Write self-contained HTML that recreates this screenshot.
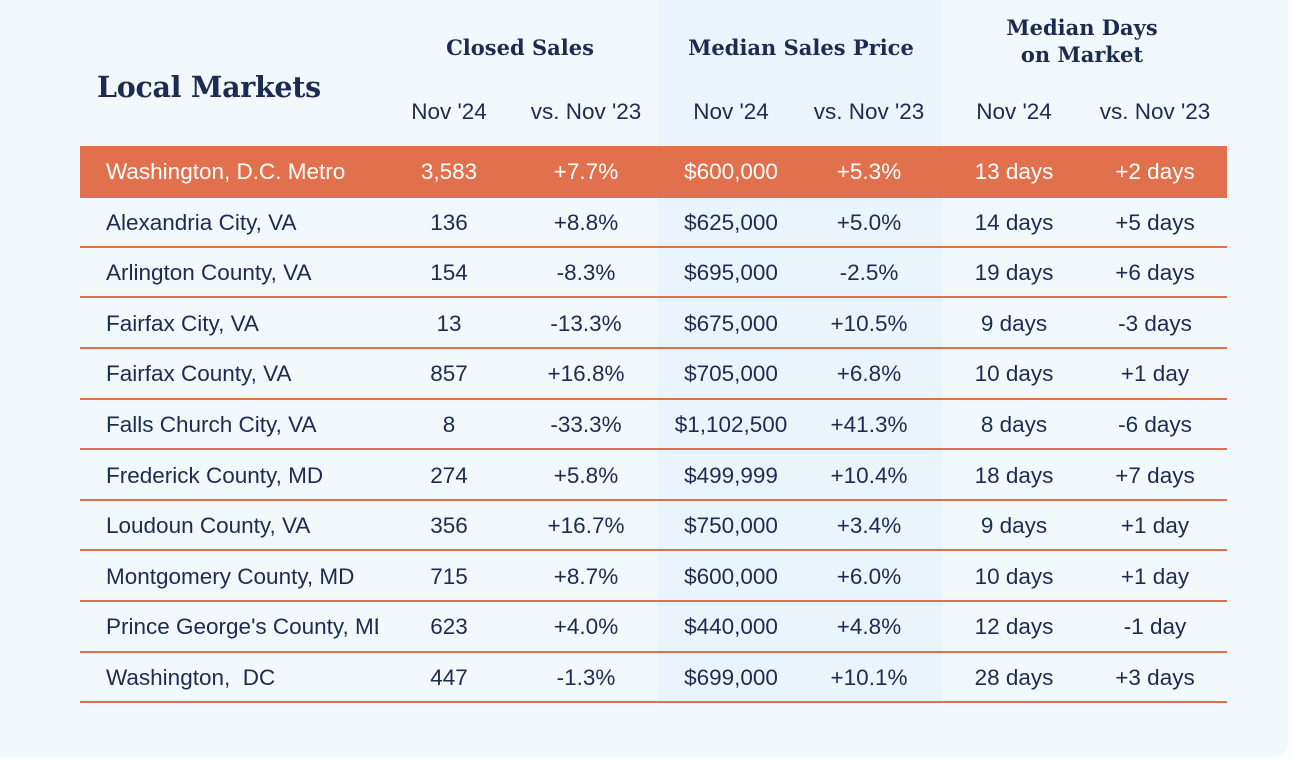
<!DOCTYPE html>
<html><head><meta charset="utf-8"><style>
html,body{margin:0;padding:0;width:1292px;height:760px;overflow:hidden;background:#fbfdff;}
#card{position:absolute;left:0;top:0;width:1288px;height:757px;background:#f2f9fd;border-radius:0 0 14px 0;overflow:hidden;}
#band{position:absolute;left:658px;top:0;width:284px;height:703px;background:#eaf4fc;}
.serif{font-family:"DejaVu Serif","Liberation Serif",serif;font-weight:bold;color:#1c2b50;position:absolute;}
.t{position:absolute;font-family:"Liberation Sans",sans-serif;color:#1c2b50;font-size:22.5px;white-space:pre;transform:translateX(-50%);}
.n{position:absolute;font-family:"Liberation Sans",sans-serif;color:#1c2b50;font-size:22.5px;white-space:pre;left:106px;width:272px;overflow:hidden;}
.line{position:absolute;height:2px;background:#e2704c;}
</style></head><body>
<div id="card">
<div id="band"></div>
<div class="serif" style="left:97px;top:70px;font-size:28.5px;letter-spacing:-0.3px;">Local Markets</div>
<div class="serif" style="left:520px;top:35px;font-size:21px;transform:translateX(-50%);white-space:nowrap;">Closed Sales</div>
<div class="serif" style="left:801px;top:35px;font-size:21px;transform:translateX(-50%);white-space:nowrap;">Median Sales Price</div>
<div class="serif" style="left:1082px;top:14px;font-size:21px;transform:translateX(-50%);white-space:nowrap;text-align:center;line-height:27px;">Median Days<br>on Market</div>
<div id="orange" style="position:absolute;left:80px;top:146px;width:1147px;height:52px;background:#e1714d;"></div>
<div id="rows"></div>
</div>
<script>
const names=["Washington, D.C. Metro","Alexandria City, VA","Arlington County, VA","Fairfax City, VA","Fairfax County, VA","Falls Church City, VA","Frederick County, MD","Loudoun County, VA","Montgomery County, MD","Prince George's County, MD","Washington,  DC"];
const sales=["3,583","136","154","13","857","8","274","356","715","623","447"];
const salesChg=["+7.7%","+8.8%","-8.3%","-13.3%","+16.8%","-33.3%","+5.8%","+16.7%","+8.7%","+4.0%","-1.3%"];
const price=["$600,000","$625,000","$695,000","$675,000","$705,000","$1,102,500","$499,999","$750,000","$600,000","$440,000","$699,000"];
const priceChg=["+5.3%","+5.0%","-2.5%","+10.5%","+6.8%","+41.3%","+10.4%","+3.4%","+6.0%","+4.8%","+10.1%"];
const days=["13 days","14 days","19 days","9 days","10 days","8 days","18 days","9 days","10 days","12 days","28 days"];
const daysChg=["+2 days","+5 days","+6 days","-3 days","+1 day","-6 days","+7 days","+1 day","+1 day","-1 day","+3 days"];
const subHeads=["Nov '24","vs. Nov '23","Nov '24","vs. Nov '23","Nov '24","vs. Nov '23"];
const colX=[449,586,731,869,1014,1155];
const root=document.getElementById('rows');
subHeads.forEach((s,i)=>{
 const d=document.createElement('div');d.className='t';d.textContent=s;
 d.style.left=colX[i]+'px';d.style.top='99px';
 
 
 root.appendChild(d);
});
const rowH=50.6,top0=146;
names.forEach((nm,r)=>{
 const y=top0+r*rowH;const white=r===0;
 const n=document.createElement('div');n.className='n';n.textContent=nm;
 n.style.top=(y+13)+'px';if(white)n.style.color='#fff';
 
 
 root.appendChild(n);
 [sales[r],salesChg[r],price[r],priceChg[r],days[r],daysChg[r]].forEach((v,i)=>{
  const c=document.createElement('div');c.className='t';c.textContent=v;
  c.style.left=colX[i]+'px';c.style.top=(y+13)+'px';if(white)c.style.color='#fff';
  
  
  root.appendChild(c);
 });
 if(r>0){
  const l=document.createElement('div');l.className='line';
  l.style.left='80px';l.style.width='1147px';l.style.top=(y+rowH-1.5)+'px';
  
  
  root.appendChild(l);
 }
});
</script>
</body></html>
